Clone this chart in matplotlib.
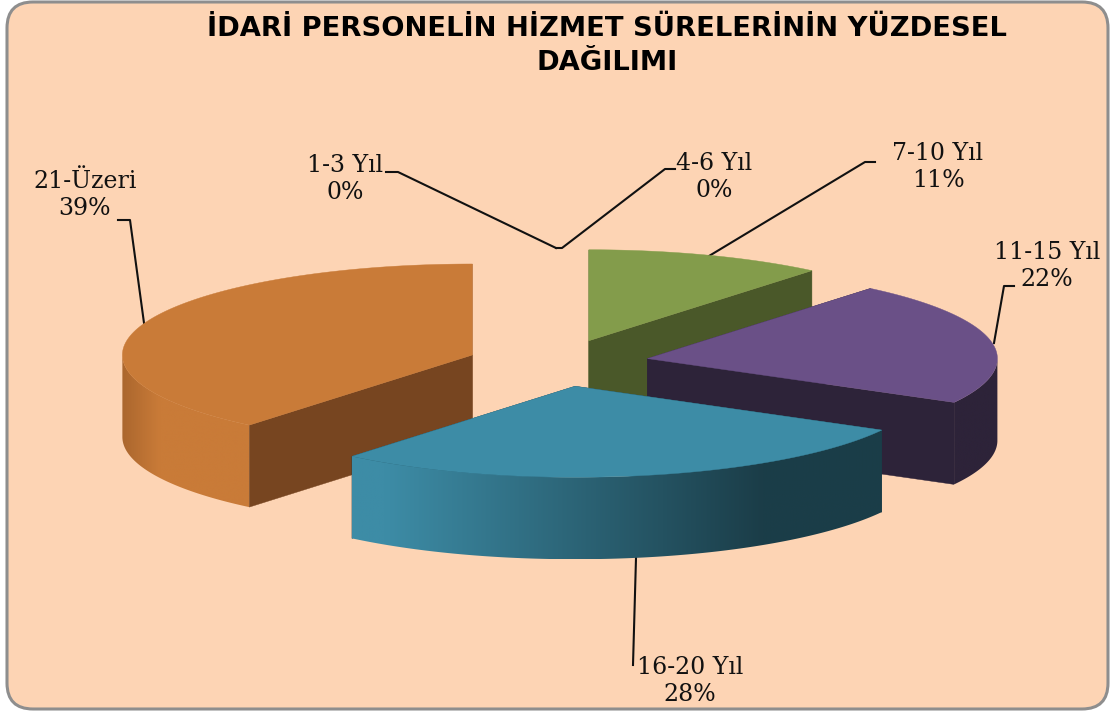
import numpy as np
import matplotlib
matplotlib.use("Agg")
import matplotlib.pyplot as plt
from matplotlib.colors import to_rgb
from matplotlib.patches import FancyBboxPatch, Polygon

categories = ["1-3 Yıl", "4-6 Yıl", "7-10 Yıl", "11-15 Yıl", "16-20 Yıl", "21-Üzeri"]
values = [0, 0, 11, 22, 28, 39]
top_colors = ["#4f81bd", "#c0504d", "#839c4b", "#6a5087", "#3d8ca6", "#c97b38"]
cut_colors = ["#2c4d75", "#772c2a", "#4a5829", "#2d2339", "#1b3d48", "#774520"]

title = "İDARİ PERSONELİN HİZMET SÜRELERİNİN YÜZDESEL\nDAĞILIMI"

# label centre, then leader line points
label_pos = [(345, 179), (714, 177), (938, 167), (1047, 266), (690, 681), (85, 195)]
leaders = [
    [(386, 172), (398, 172), (556, 248)],
    [(556, 248), (562, 248), (665, 169), (675, 169)],
    [(709, 256), (865, 162), (875, 162)],
    [(994, 343), (1004, 286), (1014, 286)],
    [(636, 558), (633, 665)],
    [(144, 323), (130, 220), (118, 220)],
]

CX, CY = 558, 363
RX, RY = 350, 91
EXPLODE = 0.26
DEPTH = 82


def rim(apex, deg):
    t = np.radians(deg)
    return np.column_stack([apex[0] + RX * np.sin(t), apex[1] - RY * np.cos(t)])


def mix(c1, c2, f):
    return tuple(a + (b - a) * f for a, b in zip(to_rgb(c1), to_rgb(c2)))


def wall_color(i, x):
    if i == 4:
        # teal side gets darker to the right
        return mix("#3d8ca6", "#1b3d48", np.clip((x - 385) / 378, 0, 1))
    if i == 5:
        return mix("#a9652d", "#c97b38", np.clip((x - 120) / 40, 0, 1))
    return to_rgb(cut_colors[i])


def draw_slice(ax, i, start, end, z):
    mid = np.radians((start + end) / 2)
    apex = (CX + EXPLODE * RX * np.sin(mid), CY - EXPLODE * RY * np.cos(mid))
    down = np.array([0, DEPTH])
    for deg in (start, end):
        p = rim(apex, np.array([deg]))[0]
        face = [apex, p, p + down, np.array(apex) + down]
        ax.add_patch(Polygon(face, closed=True, fc=cut_colors[i], ec=cut_colors[i], lw=0.3, zorder=z))
    # outer wall, only the part that faces the viewer
    a = np.linspace(max(start, 90), min(end, 270), 160)
    if a[-1] > a[0]:
        pts = rim(apex, a)
        outline = np.vstack([pts, pts[::-1] + down])
        clip = Polygon(outline, closed=True, transform=ax.transData)
        x0, x1 = pts[:, 0].min(), pts[:, 0].max()
        xs = np.linspace(x0, x1, 400)
        img = np.array([[wall_color(i, x) for x in xs]])
        im = ax.imshow(img, extent=(x0, x1, outline[:, 1].max(), outline[:, 1].min()),
                       aspect="auto", interpolation="bilinear", zorder=z + 0.1)
        im.set_clip_path(clip)
    top = np.vstack([[apex], rim(apex, np.linspace(start, end, 120))])
    ax.add_patch(Polygon(top, closed=True, fc=top_colors[i], ec=top_colors[i], lw=0.3, zorder=z + 0.2))


fig = plt.figure(figsize=(11.10, 7.11), dpi=100, facecolor="white")
ax = fig.add_axes([0, 0, 1, 1])
ax.axis("off")

ax.add_patch(FancyBboxPatch((7, 2), 1101, 707, boxstyle="round,pad=0,rounding_size=26",
                            fc="#fdd4b4", ec="#8e8e8e", lw=2.2, zorder=1))

edges = np.cumsum([0] + values) * 3.6
# back slices first, the front one hides them
for z, i in enumerate([2, 3, 5, 4]):
    draw_slice(ax, i, edges[i], edges[i + 1], 2 + z)

for line in leaders:
    xs, ys = zip(*line)
    ax.plot(xs, ys, color="#111111", lw=1.5, zorder=1.5)

for name, val, pos in zip(categories, values, label_pos):
    ax.text(pos[0], pos[1], f"{name}\n{val}%", ha="center", va="center", fontsize=17,
            family="DejaVu Serif", color="#111111", linespacing=1.2, zorder=10)

ax.text(607, 46, title, ha="center", va="center", fontsize=19.7, fontweight="bold",
        family="DejaVu Sans", color="black", linespacing=1.35, zorder=10)

ax.set_xlim(0, 1110)
ax.set_ylim(711, 0)
fig.savefig("out.png", dpi=100)
